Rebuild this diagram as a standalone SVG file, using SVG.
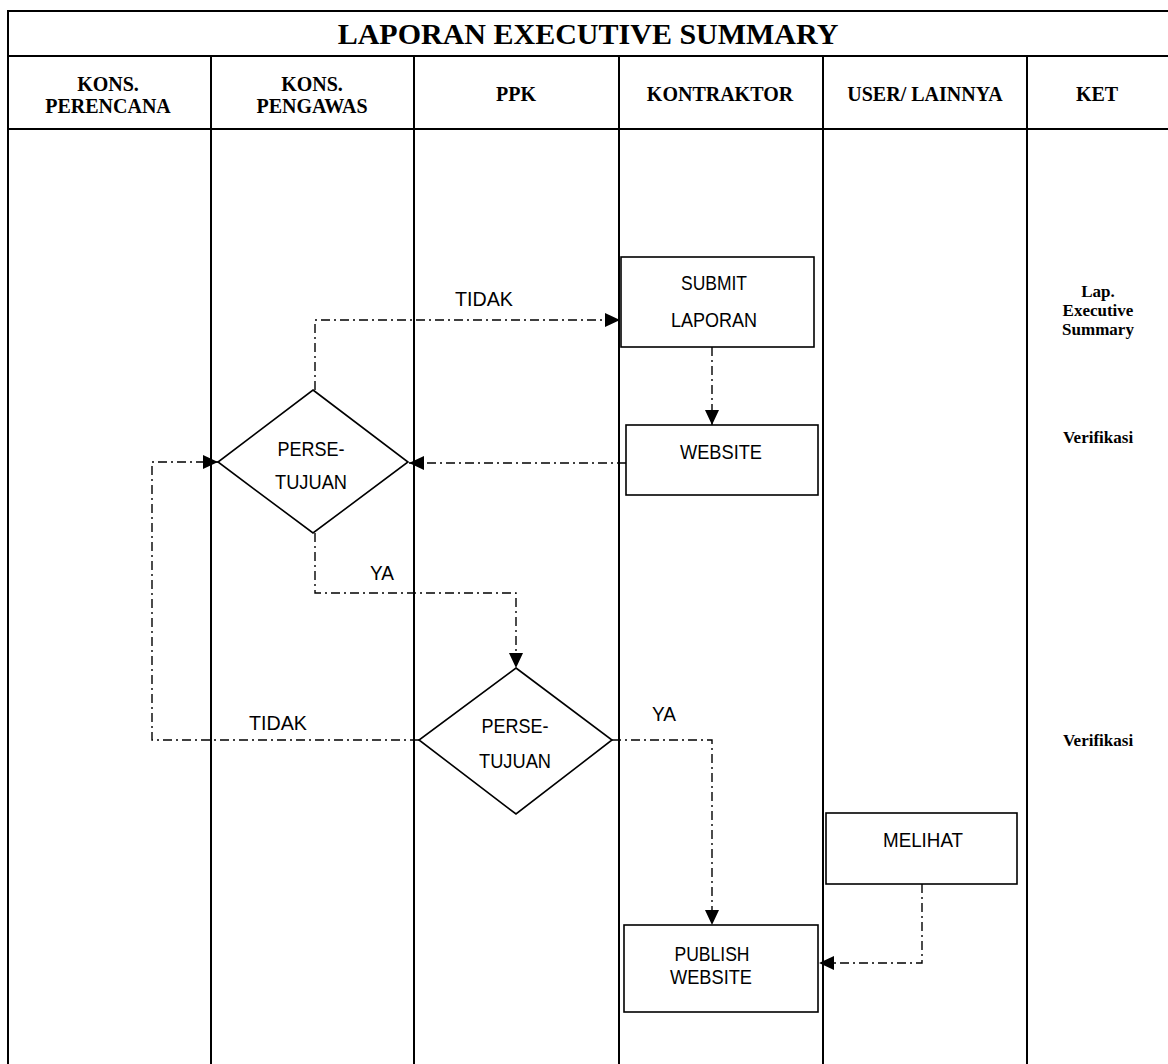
<svg xmlns="http://www.w3.org/2000/svg" width="1168" height="1064" viewBox="0 0 1168 1064">
<style>
.grid{stroke:#000;stroke-width:2;fill:none}
.hd{font-family:"Liberation Serif","Times New Roman",serif;font-weight:bold;fill:#000;text-anchor:middle}
.box{fill:#fff;stroke:#000;stroke-width:1.6}
.nt{font-family:"Liberation Sans",Arial,sans-serif;font-size:21px;fill:#000;text-anchor:middle}
.cn{fill:none;stroke:#000;stroke-width:1.4;stroke-dasharray:9 4 2 4}
</style>
<defs>
<marker id="ar" viewBox="0 0 15 14" refX="15" refY="7" markerWidth="15" markerHeight="14" markerUnits="userSpaceOnUse" orient="auto">
<path d="M0,0 L15,7 L0,14 Z" fill="#000"/>
</marker>
</defs>
<rect width="1168" height="1064" fill="#fff"/>
<g id="table">
<line class="grid" x1="7" y1="11" x2="1168" y2="11"/>
<line class="grid" x1="7" y1="56" x2="1168" y2="56"/>
<line class="grid" x1="7" y1="129" x2="1168" y2="129"/>
<line class="grid" x1="8" y1="10" x2="8" y2="1064"/>
<line class="grid" x1="211" y1="56" x2="211" y2="1064"/>
<line class="grid" x1="414" y1="56" x2="414" y2="1064"/>
<line class="grid" x1="619" y1="56" x2="619" y2="1064"/>
<line class="grid" x1="823" y1="56" x2="823" y2="1064"/>
<line class="grid" x1="1027" y1="56" x2="1027" y2="1064"/>
<text class="hd" x="588" y="44" font-size="30">LAPORAN EXECUTIVE SUMMARY</text>
<text class="hd" x="108" y="91" font-size="20">KONS.</text>
<text class="hd" x="108" y="113" font-size="20">PERENCANA</text>
<text class="hd" x="312" y="91" font-size="20">KONS.</text>
<text class="hd" x="312" y="113" font-size="20">PENGAWAS</text>
<text class="hd" x="516" y="101" font-size="20">PPK</text>
<text class="hd" x="720" y="101" font-size="20">KONTRAKTOR</text>
<text class="hd" x="925" y="101" font-size="20">USER/ LAINNYA</text>
<text class="hd" x="1097" y="101" font-size="20">KET</text>
<text class="hd" x="1098" y="297" font-size="17">Lap.</text>
<text class="hd" x="1098" y="316" font-size="17">Executive</text>
<text class="hd" x="1098" y="335" font-size="17">Summary</text>
<text class="hd" x="1098" y="443" font-size="17">Verifikasi</text>
<text class="hd" x="1098" y="746" font-size="17">Verifikasi</text>
</g>
<g id="connectors">
<polyline class="cn" points="315,390 315,320 620,320" marker-end="url(#ar)"/>
<polyline class="cn" points="712,347 712,425" marker-end="url(#ar)"/>
<polyline class="cn" points="626,463 409,463" marker-end="url(#ar)"/>
<polyline class="cn" points="315,533 315,593 516,593 516,668" marker-end="url(#ar)"/>
<polyline class="cn" points="419,740 152,740 152,462 218,462" marker-end="url(#ar)"/>
<polyline class="cn" points="612,740 712,740 712,925" marker-end="url(#ar)"/>
<polyline class="cn" points="922,884 922,963 819,963" marker-end="url(#ar)"/>
<text class="nt" x="484" y="306" textLength="58" lengthAdjust="spacingAndGlyphs">TIDAK</text>
<text class="nt" x="382" y="580" textLength="24" lengthAdjust="spacingAndGlyphs">YA</text>
<text class="nt" x="278" y="730" textLength="58" lengthAdjust="spacingAndGlyphs">TIDAK</text>
<text class="nt" x="664" y="721" textLength="24" lengthAdjust="spacingAndGlyphs">YA</text>
</g>
<g id="submit">
<rect class="box" x="621" y="257" width="193" height="90"/>
<text class="nt" x="714" y="290" textLength="66" lengthAdjust="spacingAndGlyphs">SUBMIT</text>
<text class="nt" x="714" y="327" textLength="86" lengthAdjust="spacingAndGlyphs">LAPORAN</text>
</g>
<g id="website">
<rect class="box" x="626" y="425" width="192" height="70"/>
<text class="nt" x="721" y="459" textLength="82" lengthAdjust="spacingAndGlyphs">WEBSITE</text>
</g>
<g id="persetujuan1">
<polygon class="box" points="313,390 408,462 313,533 218,462"/>
<text class="nt" x="311" y="456" textLength="67" lengthAdjust="spacingAndGlyphs">PERSE-</text>
<text class="nt" x="311" y="489" textLength="72" lengthAdjust="spacingAndGlyphs">TUJUAN</text>
</g>
<g id="persetujuan2">
<polygon class="box" points="516,668 612,740 516,814 419,740"/>
<text class="nt" x="515" y="733" textLength="67" lengthAdjust="spacingAndGlyphs">PERSE-</text>
<text class="nt" x="515" y="768" textLength="72" lengthAdjust="spacingAndGlyphs">TUJUAN</text>
</g>
<g id="melihat">
<rect class="box" x="826" y="813" width="191" height="71"/>
<text class="nt" x="923" y="847" textLength="80" lengthAdjust="spacingAndGlyphs">MELIHAT</text>
</g>
<g id="publish">
<rect class="box" x="624" y="925" width="194" height="87"/>
<text class="nt" x="712" y="961" textLength="75" lengthAdjust="spacingAndGlyphs">PUBLISH</text>
<text class="nt" x="711" y="984" textLength="82" lengthAdjust="spacingAndGlyphs">WEBSITE</text>
</g>
</svg>
